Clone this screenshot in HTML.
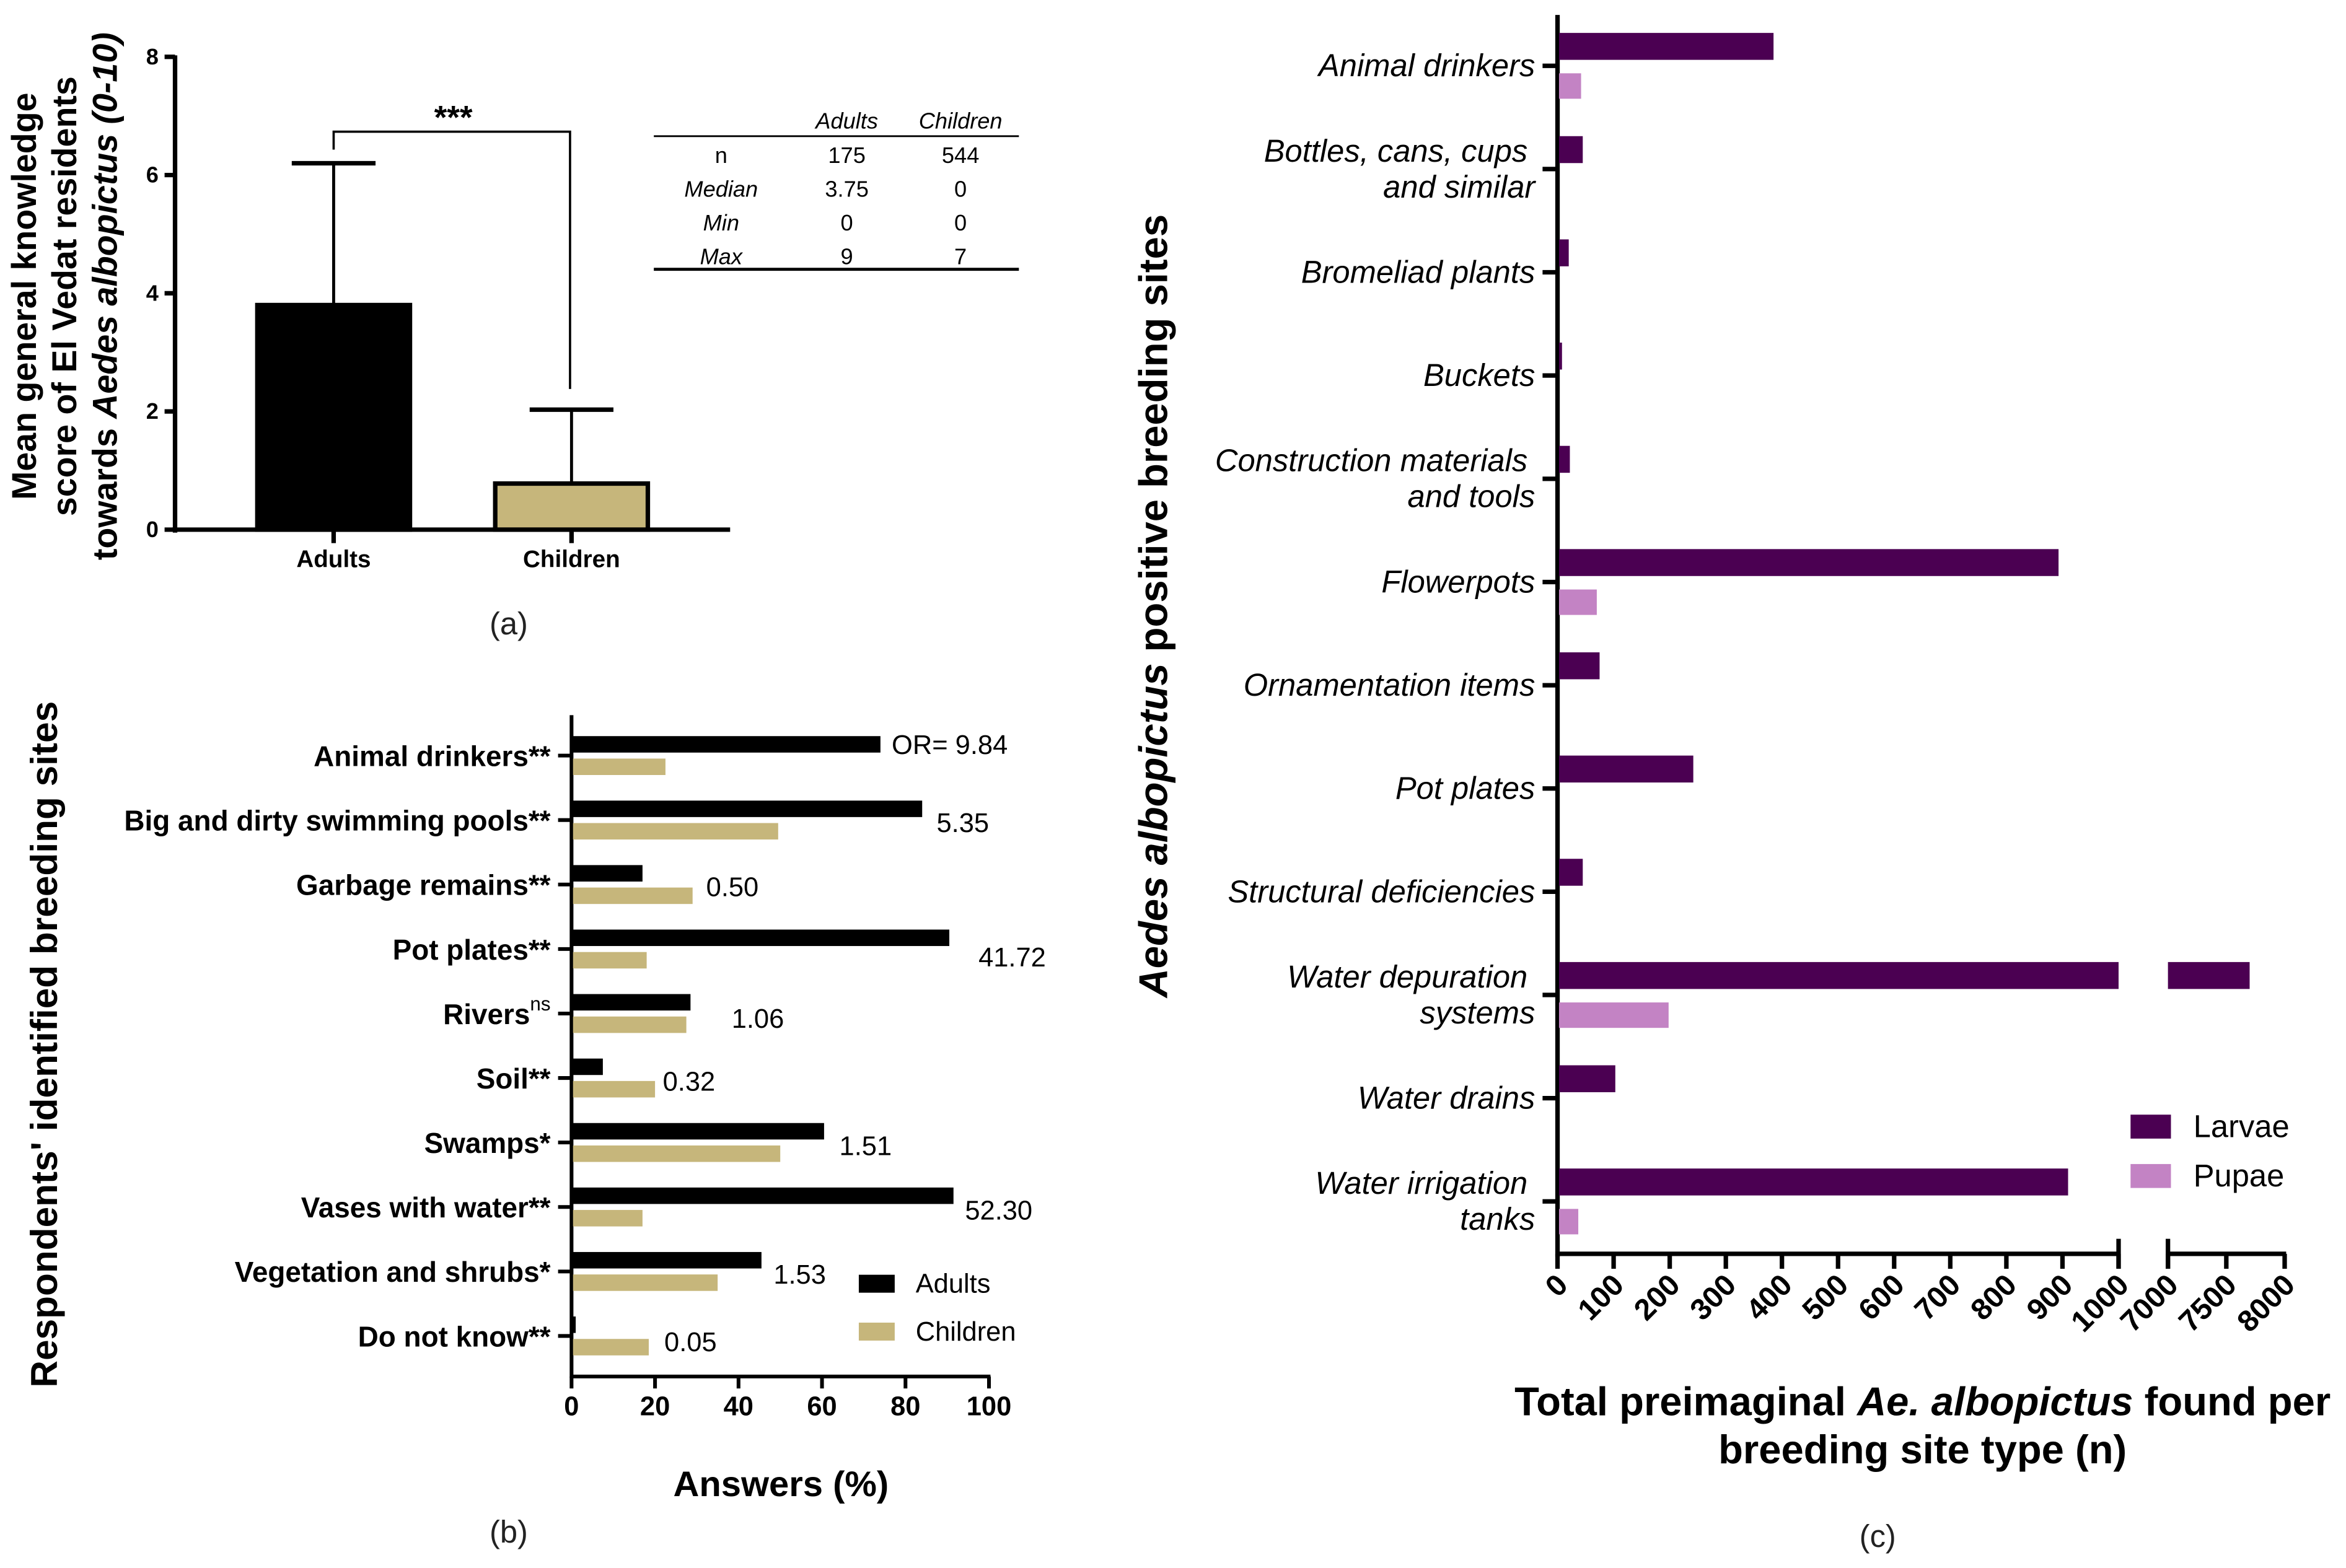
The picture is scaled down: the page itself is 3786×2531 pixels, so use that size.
<!DOCTYPE html>
<html><head><meta charset="utf-8"><style>
html,body{margin:0;padding:0;background:#fff;}
svg{display:block;}
text{font-family:"Liberation Sans",sans-serif;}
.n{font-family:"Liberation Sans Narrow","Liberation Sans",sans-serif;}
</style></head><body>
<svg id="fig" width="3786" height="2531" viewBox="0 0 1568 1048" preserveAspectRatio="none" xmlns="http://www.w3.org/2000/svg">
<g id="pa"></g>
<g id="pb"></g>
<g id="pc"></g>
</svg>
<script>
// Panel a data
const aCats = ["Adults","Children"];
const aMeans = [3.8, 0.78];
const aErr = [6.2, 2.03];
const aTicks = [0,2,4,6,8];
// Panel b data
const bCats = ["Animal drinkers**","Big and dirty swimming pools**","Garbage remains**","Pot plates**","Rivers","Soil**","Swamps*","Vases with water**","Vegetation and shrubs*","Do not know**"];
const bAdults = [74, 84, 17, 90.5, 28.5, 7.5, 60.5, 91.5, 45.5, 1];
const bChildren = [22.5, 49.5, 29, 18, 27.5, 20, 50, 17, 35, 18.5];
const bOR = ["OR= 9.84","5.35","0.50","41.72","1.06","0.32","1.51","52.30","1.53","0.05"];
const bTicks = [0,20,40,60,80,100];
// Panel c data
const cCats = [["Animal drinkers"],["Bottles, cans, cups","and similar"],["Bromeliad plants"],["Buckets"],["Construction materials","and tools"],["Flowerpots"],["Ornamentation items"],["Pot plates"],["Structural deficiencies"],["Water depuration","systems"],["Water drains"],["Water irrigation","tanks"]];
const cLarvae = [385, 45, 20, 8, 22, 893, 75, 242, 45, 7700, 103, 910];
const cPupae = [42, 0, 0, 0, 0, 70, 0, 0, 0, 198, 2, 37];
const cTicks1 = [0,100,200,300,400,500,600,700,800,900,1000];
const cTicks2 = [7000,7500,8000];

const NS="http://www.w3.org/2000/svg";
function mk(p,tag,at,txt){const e=document.createElementNS(NS,tag);for(const k in at)e.setAttribute(k,at[k]);if(txt!==undefined)e.textContent=txt;p.appendChild(e);return e;}

// ---------- Panel a ----------
(function(){
const g=document.getElementById('pa');
const ya=v=>354-v*39.5;
const xs=[223,382];
mk(g,'line',{x1:117,y1:37,x2:117,y2:356,stroke:'#000','stroke-width':3});
mk(g,'line',{x1:115,y1:354,x2:488,y2:354,stroke:'#000','stroke-width':3});
aTicks.forEach(t=>{
 const l=mk(g,'line',{x1:110,y1:ya(t),x2:117,y2:ya(t),stroke:'#000','stroke-width':3});
 
 const tx=mk(g,'text',{x:106,y:ya(t)+5,'text-anchor':'end','font-size':15,'font-weight':'bold',class:'n'},t);
 
});
const fills=['#000','#c6b67b'];
aCats.forEach((c,i)=>{
 const x=xs[i];
 mk(g,'line',{x1:x,y1:ya(aMeans[i]),x2:x,y2:ya(aErr[i]),stroke:'#000','stroke-width':2});
 mk(g,'line',{x1:x-28,y1:ya(aErr[i]),x2:x+28,y2:ya(aErr[i]),stroke:'#000','stroke-width':3});
 const r=mk(g,'rect',{x:x-51,y:ya(aMeans[i]),width:102,height:354-ya(aMeans[i]),fill:fills[i],stroke:'#000','stroke-width':3});
 
 mk(g,'line',{x1:x,y1:354,x2:x,y2:363,stroke:'#000','stroke-width':3});
 const t=mk(g,'text',{x:x,y:379,'text-anchor':'middle','font-size':16,'font-weight':'bold',class:'n'},c);
 
});
mk(g,'polyline',{points:'223,100 223,88 381,88 381,260',fill:'none',stroke:'#000','stroke-width':1.5,});
mk(g,'text',{x:303,y:86,'text-anchor':'middle','font-size':22,'font-weight':'bold',},'***');
const yt=mk(g,'text',{transform:'translate(50,198) rotate(-90)','text-anchor':'middle','font-size':23,'font-weight':'bold',});
mk(yt,'tspan',{x:0,y:-26},'Mean general knowledge');
mk(yt,'tspan',{x:0,y:1},'score of El Vedat residents');
mk(yt,'tspan',{x:0,y:28},'towards ');
mk(yt,'tspan',{'font-style':'italic'},'Aedes albopictus (0-10)');
// table
const tb=mk(g,'g',{});
const cx=[482,566,642];
mk(tb,'text',{x:cx[1],y:86,'text-anchor':'middle','font-size':15,'font-style':'italic',class:'n'},'Adults');
mk(tb,'text',{x:cx[2],y:86,'text-anchor':'middle','font-size':15,'font-style':'italic',class:'n'},'Children');
mk(tb,'line',{x1:437,y1:91,x2:681,y2:91,stroke:'#000','stroke-width':1.2});
const rows=[['n','175','544',false],['Median','3.75','0',true],['Min','0','0',true],['Max','9','7',true]];
rows.forEach((r,i)=>{const y=109+i*22.5;
 mk(tb,'text',{x:cx[0],y:y,'text-anchor':'middle','font-size':15,'font-style':r[3]?'italic':'normal',class:'n'},r[0]);
 mk(tb,'text',{x:cx[1],y:y,'text-anchor':'middle','font-size':15,class:'n'},r[1]);
 mk(tb,'text',{x:cx[2],y:y,'text-anchor':'middle','font-size':15,class:'n'},r[2]);});
mk(tb,'line',{x1:437,y1:180,x2:681,y2:180,stroke:'#000','stroke-width':2});
mk(g,'text',{x:340,y:424,'text-anchor':'middle','font-size':21,'fill':'#222',},'(a)');
})();

// ---------- Panel b ----------
(function(){
const g=document.getElementById('pb');
const xb=v=>382+v*2.79;
const cy=i=>505+i*43.1;
mk(g,'line',{x1:382,y1:478,x2:382,y2:921,stroke:'#000','stroke-width':2.5});
mk(g,'line',{x1:381,y1:920,x2:662,y2:920,stroke:'#000','stroke-width':2.5});
bTicks.forEach(t=>{
 const l=mk(g,'line',{x1:xb(t),y1:920,x2:xb(t),y2:928,stroke:'#000','stroke-width':2.5});
 
 const tx=mk(g,'text',{x:xb(t),y:946,'text-anchor':'middle','font-size':18,'font-weight':'bold'},t);
 
});
bCats.forEach((c,i)=>{
 const y=cy(i);
 mk(g,'line',{x1:373,y1:y,x2:382,y2:y,stroke:'#000','stroke-width':2.5});
 const t=mk(g,'text',{x:368,y:y+7,'text-anchor':'end','font-size':19,'font-weight':'bold',class:'n'},c);
 
 if(c==='Rivers'){mk(t,'tspan',{'font-size':13,'font-weight':'normal',dy:-9},'ns');}
 const a=mk(g,'rect',{x:382,y:y-13,width:xb(bAdults[i])-382,height:11,fill:'#000'});
 
 const ch=mk(g,'rect',{x:383,y:y+2,width:xb(bChildren[i])-383,height:11,fill:'#c6b67b'});
 
});
const orPos=[[596,498],[626,550],[472,593],[654,640],[489,681],[443,723],[561,766],[645,809],[517,852],[444,897]];
bOR.forEach((o,i)=>{
 const t=mk(g,'text',{x:orPos[i][0],y:orPos[i][1]+6,'font-size':18,class:'n'},o);
 
});
mk(g,'rect',{x:574,y:852,width:24,height:12,fill:'#000',});
mk(g,'text',{x:612,y:864,'font-size':18,class:'n',},'Adults');
mk(g,'rect',{x:574,y:884,width:24,height:12,fill:'#c6b67b',});
mk(g,'text',{x:612,y:896,'font-size':18,class:'n',},'Children');
mk(g,'text',{x:522,y:1000,'text-anchor':'middle','font-size':24,'font-weight':'bold',},'Answers (%)');
mk(g,'text',{transform:'translate(38,698) rotate(-90)','text-anchor':'middle','font-size':25,'font-weight':'bold',},"Respondents' identified breeding sites");
mk(g,'text',{x:340,y:1031,'text-anchor':'middle','font-size':21,'fill':'#222',},'(b)');
})();

// ---------- Panel c ----------
(function(){
const g=document.getElementById('pc');
const xc=v=> v<=1000 ? 1041+v*0.375 : 1449+(v-7000)*0.078;
const cy=i=>44+i*69;
mk(g,'line',{x1:1041,y1:10,x2:1041,y2:840,stroke:'#000','stroke-width':3});
mk(g,'line',{x1:1040,y1:838,x2:1416,y2:838,stroke:'#000','stroke-width':3});
mk(g,'line',{x1:1449,y1:838,x2:1528,y2:838,stroke:'#000','stroke-width':3});
mk(g,'line',{x1:1416,y1:828,x2:1416,y2:848,stroke:'#000','stroke-width':3});
mk(g,'line',{x1:1449,y1:828,x2:1449,y2:848,stroke:'#000','stroke-width':3});
cTicks1.concat(cTicks2).forEach(t=>{
 const x=xc(t);
 const l=mk(g,'line',{x1:x,y1:838,x2:x,y2:848,stroke:'#000','stroke-width':3});
 
 const tx=mk(g,'text',{transform:`translate(${x+8},${860}) rotate(-45)`,'text-anchor':'end','font-size':20,'font-weight':'bold'},t);
 
});
cCats.forEach((c,i)=>{
 const y=cy(i);
 mk(g,'line',{x1:1031,y1:y,x2:1041,y2:y,stroke:'#000','stroke-width':3});
 const t=mk(g,'text',{'text-anchor':'end','font-size':21,'font-style':'italic'});
 
 if(c.length===1){mk(t,'tspan',{x:1026,y:y+7},c[0]);}
 else{mk(t,'tspan',{x:1021,y:y-5},c[0]);mk(t,'tspan',{x:1026,y:y+19},c[1]);}
 const L=cLarvae[i];
 if(L>1000){
  const a=mk(g,'rect',{x:1042,y:y-22,width:xc(1000)-1042,height:18,fill:'#4b0052'});
  
  const b=mk(g,'rect',{x:1449,y:y-22,width:xc(L)-1449,height:18,fill:'#4b0052'});
  
 } else {
  const a=mk(g,'rect',{x:1042,y:y-22,width:xc(L)-1042,height:18,fill:'#4b0052'});
  
 }
 if(cPupae[i]>0){
  const p=mk(g,'rect',{x:1042,y:y+5,width:xc(cPupae[i])-1042,height:17,fill:'#c383c4'});
  
 }
});
mk(g,'rect',{x:1424,y:745,width:27,height:16,fill:'#4b0052',});
mk(g,'text',{x:1466,y:760,'font-size':21,},'Larvae');
mk(g,'rect',{x:1424,y:778,width:27,height:16,fill:'#c383c4',});
mk(g,'text',{x:1466,y:793,'font-size':21,},'Pupae');
const xt=mk(g,'text',{'text-anchor':'middle','font-size':27,'font-weight':'bold',});
mk(xt,'tspan',{x:1285,y:946},'Total preimaginal ');
mk(xt,'tspan',{'font-style':'italic'},'Ae. albopictus');
mk(xt,'tspan',{},' found per');
mk(xt,'tspan',{x:1285,y:978},'breeding site type (n)');
const yt=mk(g,'text',{transform:'translate(780,405) rotate(-90)','text-anchor':'middle','font-size':27,'font-weight':'bold',});
mk(yt,'tspan',{'font-style':'italic'},'Aedes albopictus');
mk(yt,'tspan',{},' positive breeding sites');
mk(g,'text',{x:1255,y:1034,'text-anchor':'middle','font-size':21,'fill':'#222',},'(c)');
})();
</script>
</body></html>
